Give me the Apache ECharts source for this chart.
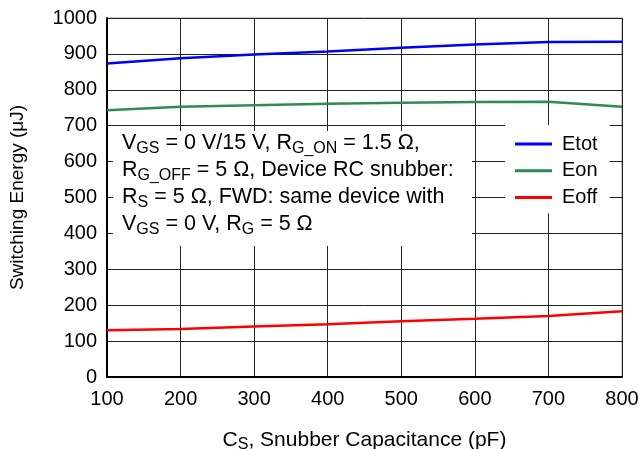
<!DOCTYPE html>
<html>
<head>
<meta charset="utf-8">
<script src="https://cdn.jsdelivr.net/npm/echarts@6/dist/echarts.min.js"></script>
<style>
  html, body { margin: 0; padding: 0; background: #fff; }
  #chart { width: 639px; height: 449px; }
</style>
</head>
<body>
<div id="chart"></div>
<script>
// snubber capacitance (pF)
const capValues = [100, 200, 300, 400, 500, 600, 700, 800];
// switching energies (uJ)
const etotValues = [873, 888, 898, 907, 917, 926, 933, 934];
const eonValues = [743, 753, 757, 761, 764, 766, 767, 753];
const eoffValues = [130, 134, 141, 147, 155, 162, 170, 183];

const seriesNames = ["Etot", "Eon", "Eoff"];
const seriesColors = ["#0000ff", "#2e8b57", "#ff0000"];

const noteLines = [
  "V{sub|GS} = 0 V/15 V, R{sub|G_ON} = 1.5 Ω,",
  "R{sub|G_OFF} = 5 Ω, Device RC snubber:",
  "R{sub|S} = 5 Ω, FWD: same device with",
  "V{sub|GS} = 0 V, R{sub|G} = 5 Ω"
];

const fontFamily = "'Liberation Sans', Arial, sans-serif";

function pairs(ys) {
  return capValues.map((x, i) => [x, ys[i]]);
}

const chart = echarts.init(document.getElementById("chart"));

const subRich = {
  sub: {
    fontSize: 16,
    fontFamily: fontFamily,
    color: "#000",
    lineHeight: 21,
    verticalAlign: "bottom"
  }
};

let _series = [etotValues, eonValues, eoffValues].map((vals, i) => {
  return {
    name: seriesNames[i],
    type: "line",
    data: pairs(vals),
    showSymbol: false,
    smooth: false,
    lineStyle: { color: seriesColors[i], width: 2.5 },
    itemStyle: { color: seriesColors[i] },
    z: 3
  };
});

const option = {
  animation: false,
  backgroundColor: "#fff",
  grid: {
    left: 107,
    right: 17,
    top: 18,
    bottom: 72,
    outerBoundsMode: "none",
    containLabel: false,
    show: true,
    borderColor: "#999",
    borderWidth: 1
  },
  legend: {
    orient: "vertical",
    left: 505,
    top: 125,
    padding: [9, 12, 6, 10],
    backgroundColor: "#fff",
    icon: "rect",
    itemWidth: 37,
    itemHeight: 3,
    itemGap: 6.7,
    z: 10,
    textStyle: {
      fontSize: 20,
      fontFamily: fontFamily,
      color: "#000",
      lineHeight: 20,
      padding: [0, 0, 0, 5]
    },
    data: seriesNames
  },
  xAxis: {
    type: "value",
    min: 100,
    max: 800,
    interval: 100,
    name: "C{sub|S}, Snubber Capacitance (pF)",
    nameLocation: "middle",
    nameGap: 50,
    nameTextStyle: {
      fontSize: 21,
      fontFamily: fontFamily,
      color: "#000",
      lineHeight: 26,
      rich: subRich
    },
    axisLine: { show: true, lineStyle: { color: "#000", width: 2 } },
    axisTick: { show: false },
    axisLabel: {
      margin: 12,
      fontSize: 20,
      fontFamily: fontFamily,
      color: "#000"
    },
    splitLine: { show: true, lineStyle: { color: "#222", width: 1 } }
  },
  yAxis: {
    type: "value",
    min: 0,
    max: 1000,
    interval: 100,
    name: "Switching Energy (μJ)",
    nameLocation: "middle",
    nameGap: 80,
    nameTextStyle: {
      fontSize: 19,
      fontFamily: fontFamily,
      color: "#000"
    },
    axisLine: { show: true, lineStyle: { color: "#000", width: 2 } },
    axisTick: { show: false },
    axisLabel: {
      margin: 10,
      fontSize: 20,
      fontFamily: fontFamily,
      color: "#000",
      formatter: (v) => String(v)
    },
    splitLine: { show: true, lineStyle: { color: "#222", width: 1 } }
  },
  graphic: [
    {
      type: "rect",
      shape: { x: 113, y: 131, width: 359, height: 115 },
      style: { fill: "#fff" },
      z: 50
    },
    {
      type: "text",
      x: 122,
      y: 130,
      z: 51,
      style: {
        text: noteLines.join("\n"),
        fontSize: 21.5,
        fontFamily: fontFamily,
        fill: "#000",
        lineHeight: 27,
        rich: subRich
      }
    }
  ],
  series: _series
};

chart.setOption(option);
</script>
</body>
</html>
